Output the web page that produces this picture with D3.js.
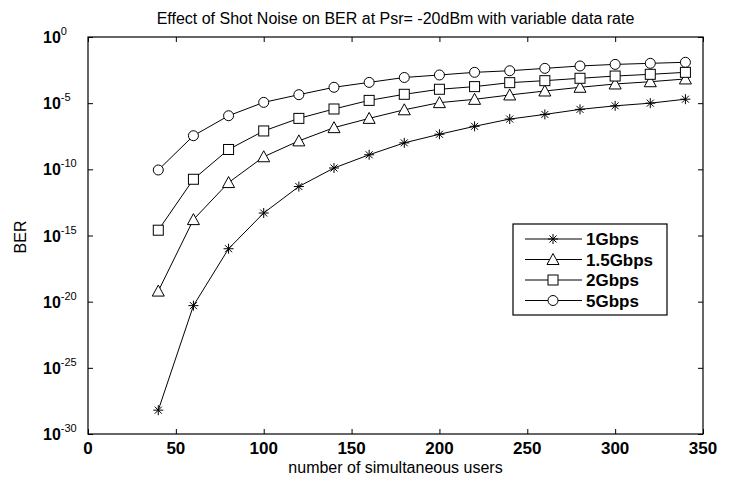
<!DOCTYPE html>
<html>
<head>
<meta charset="utf-8">
<script src="https://cdn.jsdelivr.net/npm/d3@7"></script>
<style>
body { margin: 0; background: #fff; }
text { font-family: "Liberation Sans", Arial, sans-serif; fill: #000; }
</style>
</head>
<body>
<script>
// number of simultaneous users
var users = [40, 60, 80, 100, 120, 140, 160, 180, 200, 220, 240, 260, 280, 300, 320, 340];
// log10(BER)
var ber1G  = [-28.2, -20.3, -16.0, -13.3, -11.3, -9.9, -8.9, -8.0, -7.35, -6.75, -6.2, -5.85, -5.47, -5.2, -5.0, -4.7];
var ber15G = [-19.2, -13.8, -11.0, -9.05, -7.85, -6.85, -6.15, -5.5, -4.96, -4.71, -4.38, -4.08, -3.8, -3.55, -3.38, -3.17];
var ber2G  = [-14.6, -10.75, -8.5, -7.1, -6.15, -5.44, -4.79, -4.33, -3.95, -3.75, -3.45, -3.3, -3.12, -2.95, -2.82, -2.67];
var ber5G  = [-10.05, -7.46, -5.95, -4.94, -4.36, -3.8, -3.43, -3.06, -2.87, -2.67, -2.55, -2.37, -2.19, -2.07, -1.99, -1.91];
var seriesNames = ["1Gbps", "1.5Gbps", "2Gbps", "5Gbps"];
var markers = ["star", "triangle", "square", "circle"];
var xTicks = [0, 50, 100, 150, 200, 250, 300, 350];
var yExps = [0, -5, -10, -15, -20, -25, -30];

var width = 735, height = 477;
var margin = {left: 88, right: 32, top: 37, bottom: 43};

var svg = d3.select("body").append("svg")
	.attr("width", width)
	.attr("height", height);

var x = d3.scaleLinear()
	.domain([0, 350])
	.range([margin.left, width - margin.right]);

var y = d3.scaleLog()
	.domain([1e-30, 1])
	.range([height - margin.bottom, margin.top]);

var series = [ber1G, ber15G, ber2G, ber5G].map(function(vals, i){
	return {
		name: seriesNames[i],
		marker: markers[i],
		values: vals.map(function(e, j){ return {u: users[j], ber: Math.pow(10, e)}; })
	};
});

// frame
svg.append("rect")
	.attr("x", x(0)).attr("y", y(1))
	.attr("width", x(350) - x(0))
	.attr("height", y(1e-30) - y(1))
	.attr("fill", "none")
	.attr("stroke", "#000")
	.attr("stroke-width", 1.2);

var yTickVals = yExps.map(function(e){ return Math.pow(10, e); });

// ticks pointing inward on all four sides
function tickAxis(axis, tx){
	var g = svg.append("g")
		.attr("transform", tx)
		.call(axis);
	g.select(".domain").remove();
	g.selectAll(".tick line").attr("stroke", "#000");
	g.selectAll(".tick text").remove();
	return g;
}
tickAxis(d3.axisBottom(x).tickValues(xTicks).tickSize(-5), "translate(0," + y(1e-30) + ")");
tickAxis(d3.axisTop(x).tickValues(xTicks).tickSize(-5), "translate(0," + y(1) + ")");
tickAxis(d3.axisLeft(y).tickValues(yTickVals).tickSize(-5), "translate(" + x(0) + ",0)");
tickAxis(d3.axisRight(y).tickValues(yTickVals).tickSize(-5), "translate(" + x(350) + ",0)");

// x tick labels
svg.append("g").selectAll("text")
	.data(xTicks)
	.enter().append("text")
	.attr("x", function(d){ return x(d); })
	.attr("y", y(1e-30) + 20)
	.attr("text-anchor", "middle")
	.style("font-size", "17px")
	.style("font-weight", "bold")
	.text(function(d){ return d; });

// y tick labels 10^n
var yl = svg.append("g").selectAll("text")
	.data(yExps)
	.enter().append("text")
	.attr("x", 43)
	.attr("y", function(d){ return y(Math.pow(10, d)) + 6; });
yl.append("tspan")
	.style("font-size", "16px")
	.style("font-weight", "bold")
	.text("10");
yl.append("tspan")
	.attr("dy", -8)
	.style("font-size", "11px")
	.text(function(d){ return d; });

// title and axis labels
svg.append("text")
	.attr("x", (x(0) + x(350)) / 2)
	.attr("y", 24)
	.attr("text-anchor", "middle")
	.style("font-size", "16px")
	.text("Effect of Shot Noise on BER at Psr= -20dBm with variable data rate");

svg.append("text")
	.attr("x", (x(0) + x(350)) / 2)
	.attr("y", 473)
	.attr("text-anchor", "middle")
	.style("font-size", "16px")
	.text("number of simultaneous users");

svg.append("text")
	.attr("transform", "translate(26,237) rotate(-90)")
	.attr("text-anchor", "middle")
	.style("font-size", "16px")
	.text("BER");

// markers
function drawMarker(g, type){
	if (type == "circle") {
		g.append("circle").attr("r", 5);
	} else if (type == "square") {
		g.append("rect").attr("x", -5).attr("y", -5).attr("width", 10).attr("height", 10);
	} else if (type == "triangle") {
		g.append("path").attr("d", "M0,-6L6,5L-6,5Z");
	} else {
		g.append("path").attr("d", "M-5,0H5M0,-5V5M-3.5,-3.5L3.5,3.5M-3.5,3.5L3.5,-3.5");
	}
	g.selectAll("*")
		.attr("fill", type == "star" ? "none" : "#fff")
		.attr("stroke", "#000")
		.attr("stroke-width", 1);
}

var line = d3.line()
	.x(function(d){ return x(d.u); })
	.y(function(d){ return y(d.ber); });

var sg = svg.append("g").selectAll(".series")
	.data(series)
	.enter().append("g")
	.attr("class", "series");

sg.append("path")
	.attr("d", function(d){ return line(d.values); })
	.attr("fill", "none")
	.attr("stroke", "#000")
	.attr("stroke-width", 1);

sg.each(function(s){
	d3.select(this).selectAll(".pt")
		.data(s.values)
		.enter().append("g")
		.attr("class", "pt")
		.attr("transform", function(d){ return "translate(" + x(d.u) + "," + y(d.ber) + ")"; })
		.each(function(){ drawMarker(d3.select(this), s.marker); });
});

// legend
var legend = svg.append("g").attr("transform", "translate(513,224)");
legend.append("rect")
	.attr("width", 154).attr("height", 91)
	.attr("fill", "#fff")
	.attr("stroke", "#000")
	.attr("stroke-width", 1.2);
var item = legend.selectAll(".item")
	.data(series)
	.enter().append("g")
	.attr("class", "item")
	.attr("transform", function(d, i){ return "translate(0," + (15 + i * 20.5) + ")"; });
item.append("line")
	.attr("x1", 12).attr("x2", 69)
	.attr("stroke", "#000");
item.append("g")
	.attr("transform", "translate(40,0)")
	.each(function(d){ drawMarker(d3.select(this), d.marker); });
item.append("text")
	.attr("x", 73)
	.attr("y", 6)
	.style("font-size", "17px")
	.style("font-weight", "bold")
	.text(function(d){ return d.name; });
</script>
</body>
</html>
